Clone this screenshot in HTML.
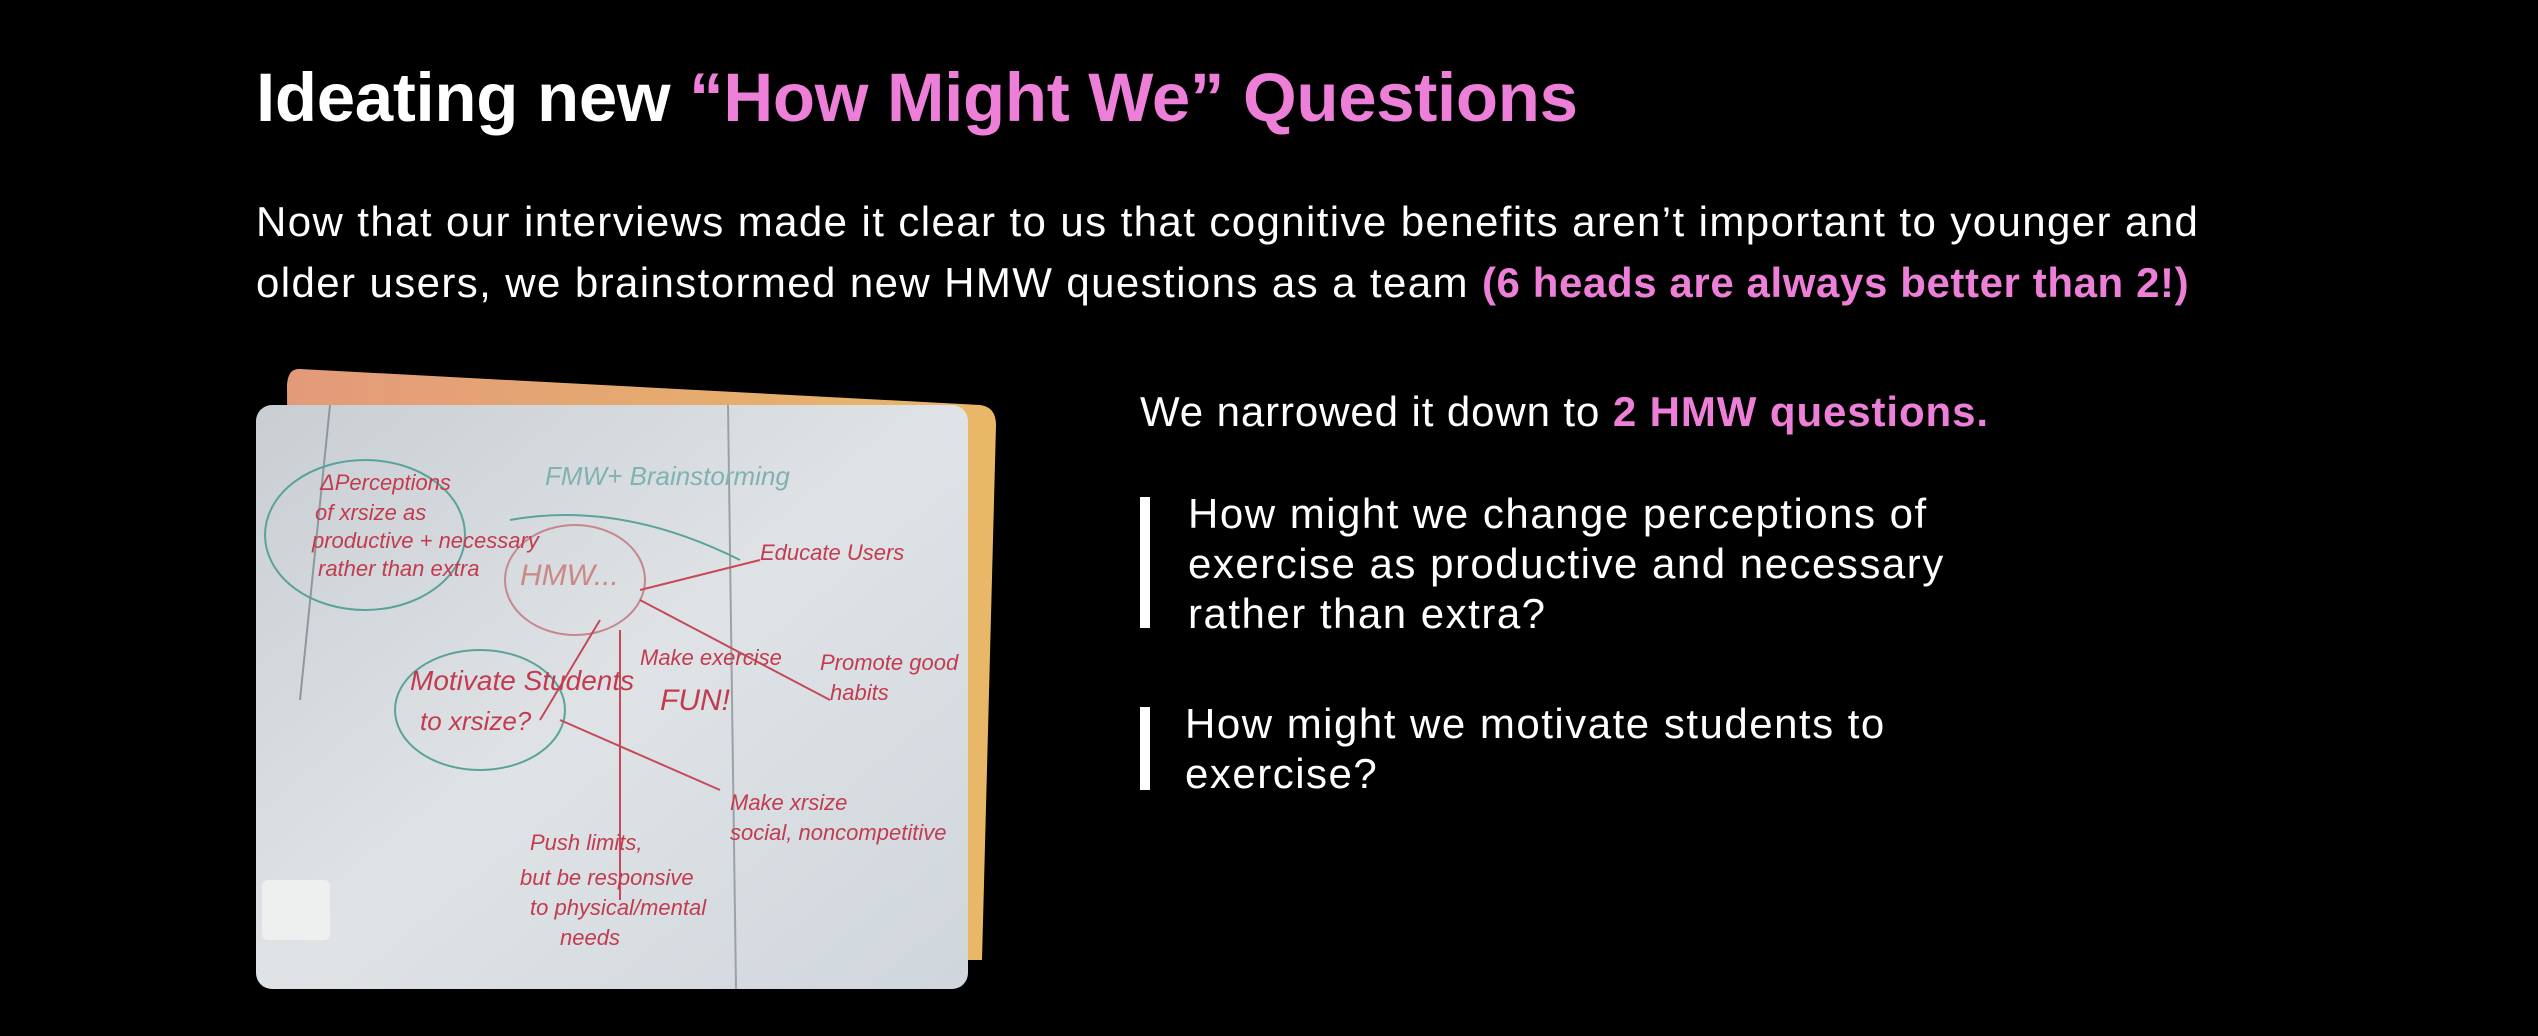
<!DOCTYPE html>
<html><head><meta charset="utf-8"><style>
html,body{margin:0;padding:0;background:#000;}
body{width:2538px;height:1036px;position:relative;overflow:hidden;font-family:"Liberation Sans",sans-serif;color:#fff;}
.t{position:absolute;white-space:nowrap;}
.pink{color:#ee7fd9;}
</style></head><body>
<div class="t" style="left:256px;top:58px;font-size:69px;font-weight:bold;letter-spacing:-0.3px;">Ideating new <span class="pink">“How Might We” Questions</span></div>
<div class="t" style="left:256px;top:191px;font-size:42px;line-height:61px;letter-spacing:1.4px;">Now that our interviews made it clear to us that cognitive benefits aren’t important to younger and<br>older users, we brainstormed new HMW questions as a team <b class="pink" style="letter-spacing:0.6px">(6 heads are always better than 2!)</b></div>

<svg style="position:absolute;left:0;top:0" width="1000" height="1036">
<defs>
<linearGradient id="og" x1="0" x2="1"><stop offset="0" stop-color="#e39a7a"/><stop offset="1" stop-color="#e8b867"/></linearGradient>
<linearGradient id="wb" x1="0" y1="0" x2="1" y2="1"><stop offset="0" stop-color="#c9ced3"/><stop offset="0.5" stop-color="#dfe3e6"/><stop offset="1" stop-color="#cfd6dc"/></linearGradient>
</defs>
<path d="M300 369 L980 405 Q996 407 996 425 L982 960 L290 960 L287 385 Q288 368 300 369Z" fill="url(#og)"/>
<rect x="256" y="405" width="712" height="584" rx="16" fill="url(#wb)"/>
<g fill="none" stroke-width="2">
<line x1="728" y1="405" x2="736" y2="989" stroke="#9aa2a8"/>
<line x1="330" y1="405" x2="300" y2="700" stroke="#8f979c"/>
<ellipse cx="365" cy="535" rx="100" ry="75" stroke="#5aa39a"/>
<ellipse cx="575" cy="580" rx="70" ry="55" stroke="#c6888f"/>
<ellipse cx="480" cy="710" rx="85" ry="60" stroke="#5aa39a"/>
<path d="M510 520 Q620 500 740 560" stroke="#5aa39a"/>
<path d="M640 590 L760 560 M640 600 L830 700 M620 630 L620 900 M600 620 L540 720 M560 720 L720 790" stroke="#c44a5a"/>
</g>
<g fill="#c23b4f" font-family="Liberation Sans,sans-serif" font-size="22" font-style="italic">
<text x="320" y="490">ΔPerceptions</text><text x="315" y="520">of xrsize as</text><text x="312" y="548">productive + necessary</text><text x="318" y="576">rather than extra</text>
<text x="520" y="585" font-size="30" fill="#c88">HMW...</text>
<text x="410" y="690" font-size="28">Motivate Students</text><text x="420" y="730" font-size="26">to xrsize?</text>
<text x="640" y="665">Make exercise</text><text x="660" y="710" font-size="30">FUN!</text>
<text x="820" y="670">Promote good</text><text x="830" y="700">habits</text>
<text x="760" y="560">Educate Users</text>
<text x="730" y="810">Make xrsize</text><text x="730" y="840">social, noncompetitive</text>
<text x="530" y="850">Push limits,</text><text x="520" y="885">but be responsive</text><text x="530" y="915">to physical/mental</text><text x="560" y="945">needs</text>
<text x="545" y="485" fill="#7fb2b0" font-size="26">FMW+ Brainstorming</text>
</g>
<rect x="262" y="880" width="68" height="60" rx="6" fill="#eef0f0"/>
</svg>

<div class="t" style="left:1140px;top:388px;font-size:42px;letter-spacing:0.9px;">We narrowed it down to <b class="pink">2 HMW questions.</b></div>
<div style="position:absolute;left:1140px;top:497px;width:10px;height:131px;background:#fff;"></div>
<div class="t" style="left:1188px;top:489px;font-size:42px;line-height:50px;letter-spacing:1.5px;">How might we change perceptions of<br>exercise as productive and necessary<br>rather than extra?</div>
<div style="position:absolute;left:1140px;top:707px;width:10px;height:83px;background:#fff;"></div>
<div class="t" style="left:1185px;top:699px;font-size:42px;line-height:50px;letter-spacing:1.5px;">How might we motivate students to<br>exercise?</div>
</body></html>
